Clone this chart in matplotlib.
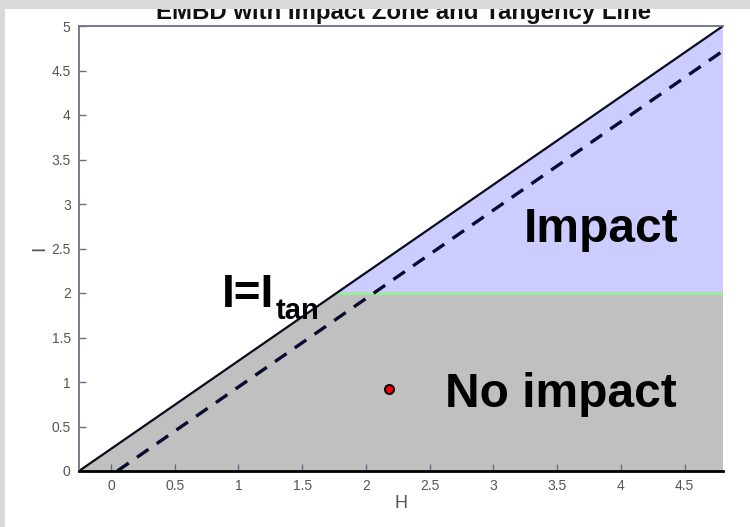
import matplotlib
matplotlib.use("Agg")
import matplotlib.pyplot as plt
from matplotlib.patches import Polygon, Rectangle

plt.rcParams['font.family'] = ['Liberation Sans', 'DejaVu Sans']

# ---- data ----
x_limits = [-0.25, 4.8]
y_limits = [0, 5]
solid_H = [-0.25, 4.8]
solid_I = [0.0, 5.0]
dashed_H = [0.05, 4.8]
dashed_I = [0.0, 4.72]
impact_threshold = 2.0
point_H = [2.18]
point_I = [0.92]
x_ticks = [0, 0.5, 1, 1.5, 2, 2.5, 3, 3.5, 4, 4.5]
x_tick_labels = ['0', '0.5', '1', '1.5', '2', '2.5', '3', '3.5', '4', '4.5']
y_ticks = [0, 0.5, 1, 1.5, 2, 2.5, 3, 3.5, 4, 4.5, 5]
y_tick_labels = ['0', '0.5', '1', '1.5', '2', '2.5', '3', '3.5', '4', '4.5', '5']
title_text = 'EMBD with Impact Zone and Tangency Line'
label_impact = 'Impact'
label_noimpact = 'No impact'
label_tan_main = 'I=I'
label_tan_sub = 'tan'

W, H = 750, 527
fig = plt.figure(figsize=(W / 100, H / 100), dpi=100)
fig.patch.set_facecolor('white')
ax = fig.add_axes([79 / W, 1 - 471 / H, (723 - 79) / W, (471 - 26) / H])
ax.set_xlim(x_limits)
ax.set_ylim(y_limits)

# intersection of solid line with threshold
slope = (solid_I[1] - solid_I[0]) / (solid_H[1] - solid_H[0])
h_cross = solid_H[0] + (impact_threshold - solid_I[0]) / slope

gray = Polygon([(solid_H[0], solid_I[0]), (h_cross, impact_threshold),
                (x_limits[1], impact_threshold), (x_limits[1], y_limits[0])],
               closed=True, facecolor='#c0c0c0', edgecolor='none', zorder=1)
blue = Polygon([(h_cross, impact_threshold), (solid_H[1], solid_I[1]),
                (x_limits[1], impact_threshold)],
               closed=True, facecolor='#ccccff', edgecolor='none', zorder=1)
ax.add_patch(gray)
ax.add_patch(blue)
ax.plot([h_cross, x_limits[1]], [impact_threshold, impact_threshold],
        color='#99ee99', lw=2.0, zorder=2, solid_capstyle='butt')
ax.plot(solid_H, solid_I, color='#0a0a20', lw=1.6, zorder=3)
ax.plot(dashed_H, dashed_I, color='#0a0a30', lw=2.4, dashes=(4.2, 3.0), zorder=3)
ax.plot(point_H, point_I, 'o', ms=6.5, mfc='red', mec='black', mew=1.4, zorder=4)

ax.text(3.24, 2.57, label_impact, fontsize=34.5, fontweight='bold', zorder=5)
ax.text(2.62, 0.72, label_noimpact, fontsize=34.5, fontweight='bold', zorder=5)
ax.text(0.874, 1.84, label_tan_main, fontsize=33, fontweight='bold',
        va='baseline', zorder=5)
ax.text(1.29, 1.71, label_tan_sub, fontsize=21, fontweight='bold',
        va='baseline', zorder=5)

ax.set_xticks(x_ticks)
ax.set_xticklabels(x_tick_labels)
ax.set_yticks(y_ticks)
ax.set_yticklabels(y_tick_labels)
ax.tick_params(axis='both', direction='in', length=5, width=1.0, colors='#6a6a80',
               labelcolor='#555555', labelsize=10)
ax.tick_params(axis='x', pad=6)
ax.tick_params(axis='y', pad=6)
ax.set_xlabel('H', fontsize=13, color='#555555', labelpad=1)
ax.set_ylabel('I', fontsize=14, color='#555555', labelpad=2)

for s in ['left', 'top']:
    ax.spines[s].set_color('#78788f')
    ax.spines[s].set_linewidth(1.4)
ax.spines['right'].set_visible(False)
ax.spines['bottom'].set_color('black')
ax.spines['bottom'].set_linewidth(2.0)
for sp in ax.spines.values():
    sp.set_zorder(6)

fig.text(404 / W, 1 - 19 / H, title_text, fontsize=17.3, fontweight='bold',
         ha='center', va='baseline', color='#111111')
fig.patches.append(Rectangle((0, 1 - 9 / H), 1, 9 / H, transform=fig.transFigure,
                             facecolor='#d9d9d9', edgecolor='none', zorder=10))
fig.patches.append(Rectangle((0, 0), 5 / W, 1, transform=fig.transFigure,
                             facecolor='#d9d9d9', edgecolor='none', zorder=10))

fig.savefig('out.png', dpi=100)
